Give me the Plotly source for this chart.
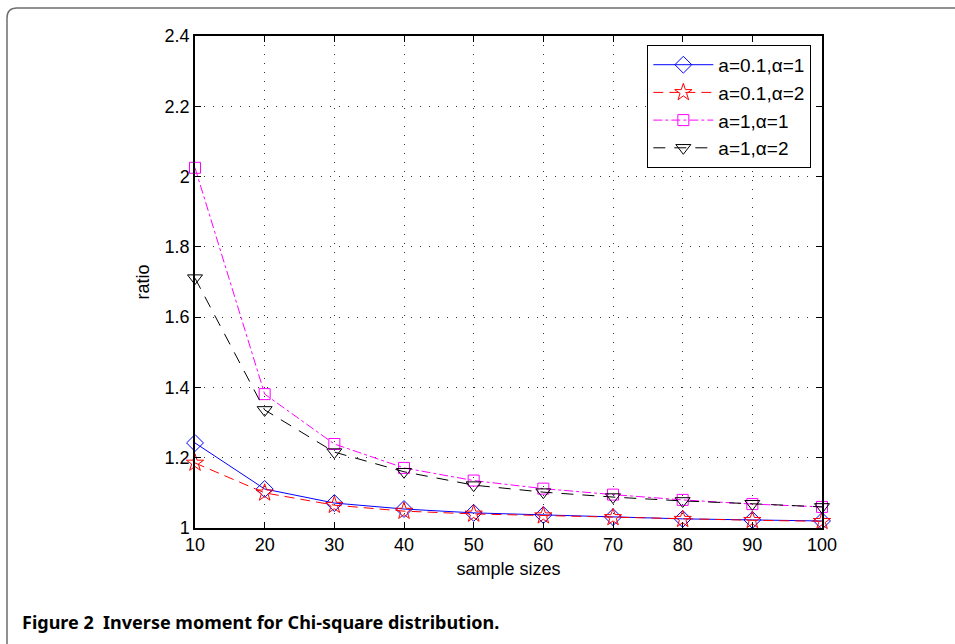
import plotly.graph_objects as go

sample_sizes = [10, 20, 30, 40, 50, 60, 70, 80, 90, 100]
ratio_a01_al1 = [1.242, 1.111, 1.071, 1.054, 1.043, 1.037, 1.031, 1.026, 1.023, 1.020]
ratio_a01_al2 = [1.185, 1.100, 1.065, 1.048, 1.040, 1.035, 1.030, 1.025, 1.022, 1.019]
ratio_a1_al1 = [2.025, 1.381, 1.239, 1.171, 1.135, 1.112, 1.095, 1.080, 1.068, 1.060]
ratio_a1_al2 = [1.711, 1.336, 1.216, 1.160, 1.122, 1.102, 1.088, 1.077, 1.069, 1.060]
y_ticks = [1, 1.2, 1.4, 1.6, 1.8, 2, 2.2, 2.4]
x_ticks = sample_sizes

series = [
    ("a=0.1,α=1", ratio_a01_al1, "#0000ff", "solid", "diamond-open", 13),
    ("a=0.1,α=2", ratio_a01_al2, "#ff0000", "10px,6px", "star-open", 13),
    ("a=1,α=1", ratio_a1_al1, "#ff00ff", "dashdot", "square-open", 11),
    ("a=1,α=2", ratio_a1_al2, "#000000", "12px,9px", "triangle-down-open", 13),
]

FONT = "Liberation Sans, Arial"

fig = go.Figure()
for name, vals, col, dash, sym, sz in series:
    fig.add_trace(go.Scatter(
        x=sample_sizes, y=vals, name=name, mode="lines+markers",
        line=dict(color=col, width=1, dash=dash),
        marker=dict(symbol=sym, size=sz, color=col, line=dict(width=1, color=col)),
        cliponaxis=False,
    ))

axis_common = dict(
    showline=True, linecolor="black", linewidth=1.5, mirror="ticks",
    ticks="inside", ticklen=6, tickcolor="black", tickwidth=1,
    showgrid=True, gridcolor="#333333", griddash="1px,8px", gridwidth=1,
    zeroline=False, tickfont=dict(family=FONT, size=18, color="black"),
)

fig.update_layout(
    width=955, height=644,
    margin=dict(l=195, r=133, t=36, b=116),
    paper_bgcolor="white", plot_bgcolor="white",
    showlegend=True,
    legend=dict(
        x=0.983, y=0.982, xanchor="right", yanchor="top",
        bgcolor="white", bordercolor="black", borderwidth=1,
        font=dict(family=FONT, size=19, color="black"),
        itemwidth=60, tracegroupgap=0,
    ),
    xaxis=dict(range=[10, 100], tickvals=x_ticks,
               title=dict(text="sample sizes", font=dict(family=FONT, size=18, color="black"), standoff=8),
               **axis_common),
    yaxis=dict(range=[1, 2.4], tickvals=y_ticks, ticktext=[f"{v:g}" for v in y_ticks],
               title=dict(text="ratio", font=dict(family=FONT, size=18, color="black"), standoff=10),
               **axis_common),
)

# outer rounded frame (paper coordinates)
W, H = 627.0, 492.0
def px(x):
    return (x - 195) / W
def py(y):
    return (528 - y) / H
x0, y0, x1, y1, r = 7, 8, 960, 650, 10
path = (f"M {px(x0)},{py(y1)} L {px(x0)},{py(y0 + r)} "
        f"Q {px(x0)},{py(y0)} {px(x0 + r)},{py(y0)} L {px(x1)},{py(y0)}")
fig.add_shape(type="path", path=path, xref="paper", yref="paper",
              line=dict(color="#6e6e6e", width=1.5), layer="below")

fig.add_annotation(
    text="<b>Figure 2  Inverse moment for Chi-square distribution.</b>",
    xref="paper", yref="paper", x=px(20), y=py(622), xanchor="left", yanchor="middle",
    showarrow=False, font=dict(family="Noto Sans, Open Sans", size=18, color="black"),
)

fig.write_html("out.html")
